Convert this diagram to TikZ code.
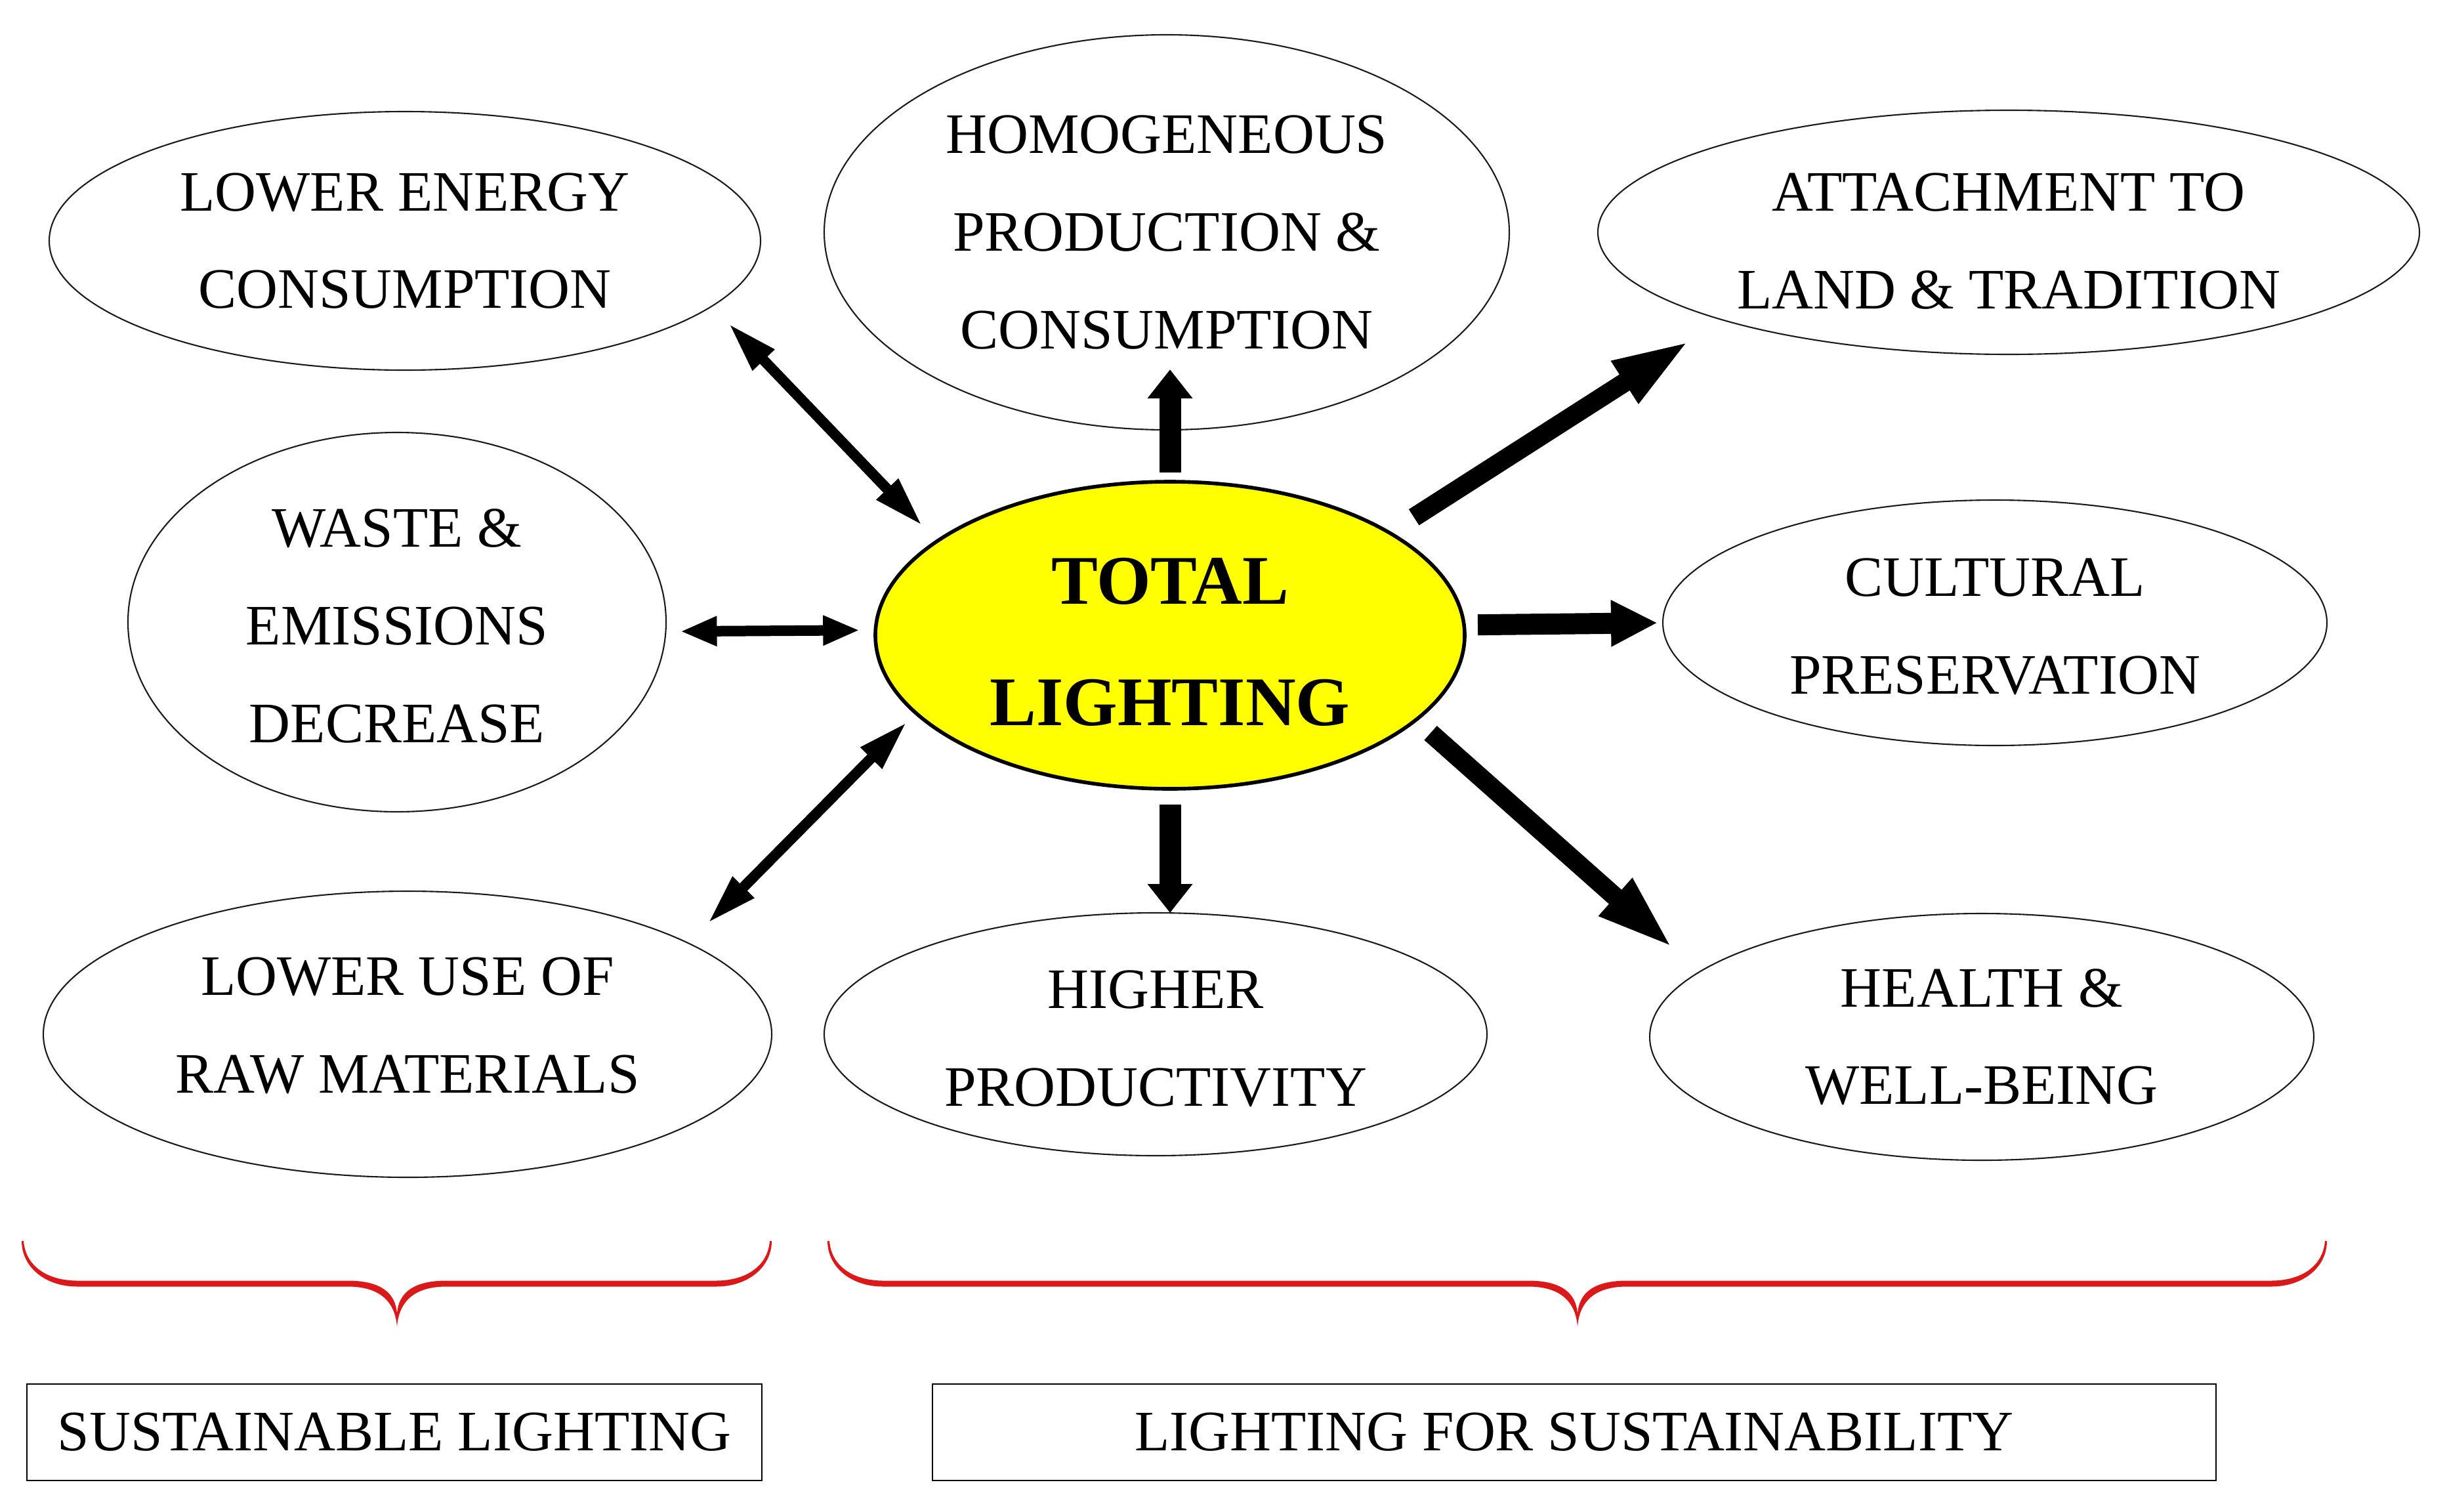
\documentclass[tikz,border=0pt]{standalone}
\usepackage{fontspec}
\setmainfont{Liberation Serif}
\usepackage{xcolor}
\usetikzlibrary{shapes.geometric, arrows.meta}
\definecolor{tlYellow}{HTML}{FFFF00}
\definecolor{tlRed}{HTML}{DA1A1A}
\definecolor{tlDark}{HTML}{1A1A1A}

% curly brace drawn as a tapered red shape: left end, tip, right end
\newcommand{\tlbrace}[3]{%
  \fill[tlRed] (#1,-18.91)
    .. controls (#1,-19.30) and (#1+0.35,-19.605) .. (#1+0.85,-19.605)
    -- (#2-0.75,-19.605)
    .. controls (#2-0.3,-19.605) and (#2-0.03,-19.8) .. (#2,-20.22)
    .. controls (#2+0.03,-19.8) and (#2+0.3,-19.605) .. (#2+0.75,-19.605)
    -- (#3-0.85,-19.605)
    .. controls (#3-0.35,-19.605) and (#3,-19.30) .. (#3,-18.91)
    -- (#3-0.03,-18.91)
    .. controls (#3-0.06,-19.30) and (#3-0.4,-19.515) .. (#3-0.85,-19.515)
    -- (#2+0.75,-19.515)
    .. controls (#2+0.25,-19.515) and (#2+0.02,-19.7) .. (#2,-20.02)
    .. controls (#2-0.02,-19.7) and (#2-0.25,-19.515) .. (#2-0.75,-19.515)
    -- (#1+0.85,-19.515)
    .. controls (#1+0.4,-19.515) and (#1+0.06,-19.30) .. (#1+0.03,-18.91)
    -- cycle;}

\begin{document}
\begin{tikzpicture}[
    item/.style={ellipse, draw=tlDark, line width=0.6pt, inner sep=0pt,
                 outer sep=0pt, align=center, font=\fontsize{24.8}{42.3}\selectfont},
    hub/.style={ellipse, draw=black, line width=1.6pt, fill=tlYellow,
                inner sep=0pt, outer sep=0pt, align=center,
                font=\fontsize{30.2}{52.7}\selectfont\bfseries},
    tag/.style={draw=black, line width=0.8pt, inner sep=0pt,
                minimum height=1.47cm, font=\fontsize{24.8}{28}\selectfont},
    twoway/.style={line width=1.6mm,
                   {Triangle[length=#1, width=4.2mm]}-{Triangle[length=#1, width=4.2mm]}},
    twoway/.default=5.6mm,
    vertarrow/.style={line width=3.3mm, -{Triangle[length=4.4mm, width=6.6mm]}},
    horarrow/.style={line width=3.2mm, -{Triangle[length=7.1mm, width=6.6mm]}},
    diagarrow/.style={line width=2.9mm, -{Triangle[length=12mm, width=6.8mm]}}
]
    \useasboundingbox (0,0) rectangle (37.29,-23.03);

    % --- Centre ---
    \node[hub, minimum width=8.98cm, minimum height=4.68cm] (total) at (17.83,-9.68) {\rule{0pt}{25.8pt}TOTAL\\LIGHTING};

    % --- Left column ---
    \node[item, minimum width=10.84cm, minimum height=3.94cm] (energy) at (6.17,-3.67) {LOWER ENERGY\\CONSUMPTION};
    \node[item, minimum width=8.20cm, minimum height=5.78cm] (waste) at (6.05,-9.48) {\rule{0pt}{19.8pt}WASTE \&\\EMISSIONS\\DECREASE};
    \node[item, minimum width=11.10cm, minimum height=4.36cm, text depth=0.28cm] (lowuse) at (6.21,-15.76) {LOWER USE OF\\RAW MATERIALS};

    % --- Middle column ---
    \node[item, minimum width=10.44cm, minimum height=6.02cm] (homog) at (17.78,-3.54) {HOMOGENEOUS\\PRODUCTION \&\\CONSUMPTION};
    \node[item, minimum width=10.10cm, minimum height=3.70cm] (higher) at (17.61,-15.76) {\rule{0pt}{20.4pt}HIGHER\\PRODUCTIVITY};

    % --- Right column ---
    \node[item, minimum width=12.52cm, minimum height=3.72cm] (attach) at (30.61,-3.54) {\rule{0pt}{24pt}ATTACHMENT TO\\LAND \& TRADITION};
    \node[item, minimum width=10.12cm, minimum height=3.74cm] (cultural) at (30.40,-9.49) {\rule{0pt}{19.8pt}CULTURAL\\PRESERVATION};
    \node[item, minimum width=10.12cm, minimum height=3.76cm] (health) at (30.20,-15.80) {HEALTH \&\\WELL-BEING};

    % --- Arrows ---
    \draw[twoway=7.8mm, shorten <=3.6mm, shorten >=3.2mm] (energy.-12.9) -- (total.158);
    \draw[twoway, shorten <=2.2mm, shorten >=2.4mm] (waste.-2.1) -- (total.179.4);
    \draw[twoway=7.8mm, shorten <=4.2mm, shorten >=1.9mm] (lowuse.18.3) -- (total.-163);
    \draw[vertarrow, shorten <=1.4mm, shorten >=-9.2mm] (total.north) -- (total.north |- homog.south);
    \draw[vertarrow, shorten <=2.4mm] (total.south) -- (total.south |- higher.north);
    \draw[diagarrow, shorten <=4.4mm, shorten >=5.7mm] (total.25) -- (attach.-163.4);
    \draw[horarrow, shorten <=2.1mm, shorten >=0.8mm] (total.2.2) -- (cultural.180);
    \draw[diagarrow, shorten <=3mm, shorten >=5.2mm] (total.-19.6) -- (health.167.6);

    % --- Braces and labels ---
    \tlbrace{0.33}{6.05}{11.76}
    \tlbrace{12.61}{24.04}{35.46}
    \node[tag, minimum width=11.2cm] (sustlight) at (6.01,-21.825) {SUSTAINABLE LIGHTING};
    \node[tag, minimum width=19.56cm] (lightsust) at (23.99,-21.825) {LIGHTING FOR SUSTAINABILITY};
\end{tikzpicture}
\end{document}
